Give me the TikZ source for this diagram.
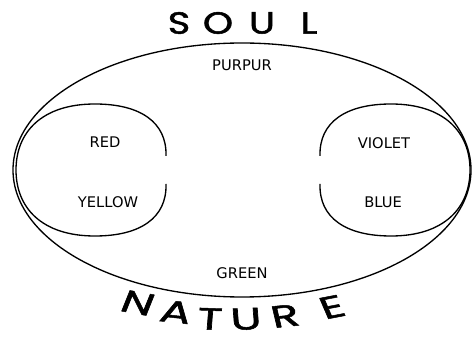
\documentclass[tikz,border=0pt]{standalone}
\usepackage{fontspec}
\setmainfont{DejaVu Sans}
\newfontfamily\titlefont[FakeBold=1.5]{Poppins}
\usetikzlibrary{
  positioning,
  shapes.geometric
}

\begin{document}
\begin{tikzpicture}[
      x=0.75pt, y=-0.75pt,
      line/.style={draw=black, line width=1pt},
      colour/.style={font=\fontsize{11}{13}\selectfont, inner sep=0pt},
      soulletter/.style={font=\titlefont\fontsize{23}{27}\selectfont, inner sep=0pt, xscale=1.25},
      natureletter/.style={font=\titlefont\fontsize{23}{27}\selectfont, inner sep=0pt, xscale=1.5}
    ]
      \useasboundingbox (0,0) rectangle (473,341);

      % Outer ellipse
      \node[ellipse, line, minimum width=343.5pt, minimum height=190.5pt, inner sep=0pt] (world) at (242,170) {};

      % Left and right halves
      \draw[line] (166,156) .. controls (167,122) and (140,104) .. (95,104)
        .. controls (42,104) and (16,132) .. (16,170)
        .. controls (16,208) and (42,236) .. (95,236)
        .. controls (140,236) and (167,218) .. (166,184);
      \draw[line] (320,156) .. controls (319,122) and (346,104) .. (391,104)
        .. controls (444,104) and (470,132) .. (470,170)
        .. controls (470,208) and (444,236) .. (391,236)
        .. controls (346,236) and (319,218) .. (320,184);

      % Colours
      \node[colour, below=13pt of world.north] (purpur) {PURPUR};
      \node[colour, above=14pt of world.south] (green) {GREEN};
      \node[colour] (red) at (105,142) {RED};
      \node[colour] (yellow) at (108,202) {YELLOW};
      \node[colour] (violet) at (384,143) {VIOLET};
      \node[colour] (blue) at (383,202) {BLUE};

      % SOUL
      \node[soulletter] (soulS) at (179,23) {S};
      \node[soulletter] (soulO) at (218,23) {O};
      \node[soulletter] (soulU) at (262,23) {U};
      \node[soulletter] (soulL) at (309,23) {L};

      % NATURE
      \node[natureletter, rotate=-15] (natN) at (138,303) {N};
      \node[natureletter, rotate=-9] (natA) at (176,312) {A};
      \node[natureletter, rotate=-3] (natT) at (210,319) {T};
      \node[natureletter, rotate=3] (natU) at (246,319) {U};
      \node[natureletter, rotate=9] (natR) at (285,316) {R};
      \node[natureletter, rotate=16] (natE) at (332,307) {E};
    \end{tikzpicture}
\end{document}
